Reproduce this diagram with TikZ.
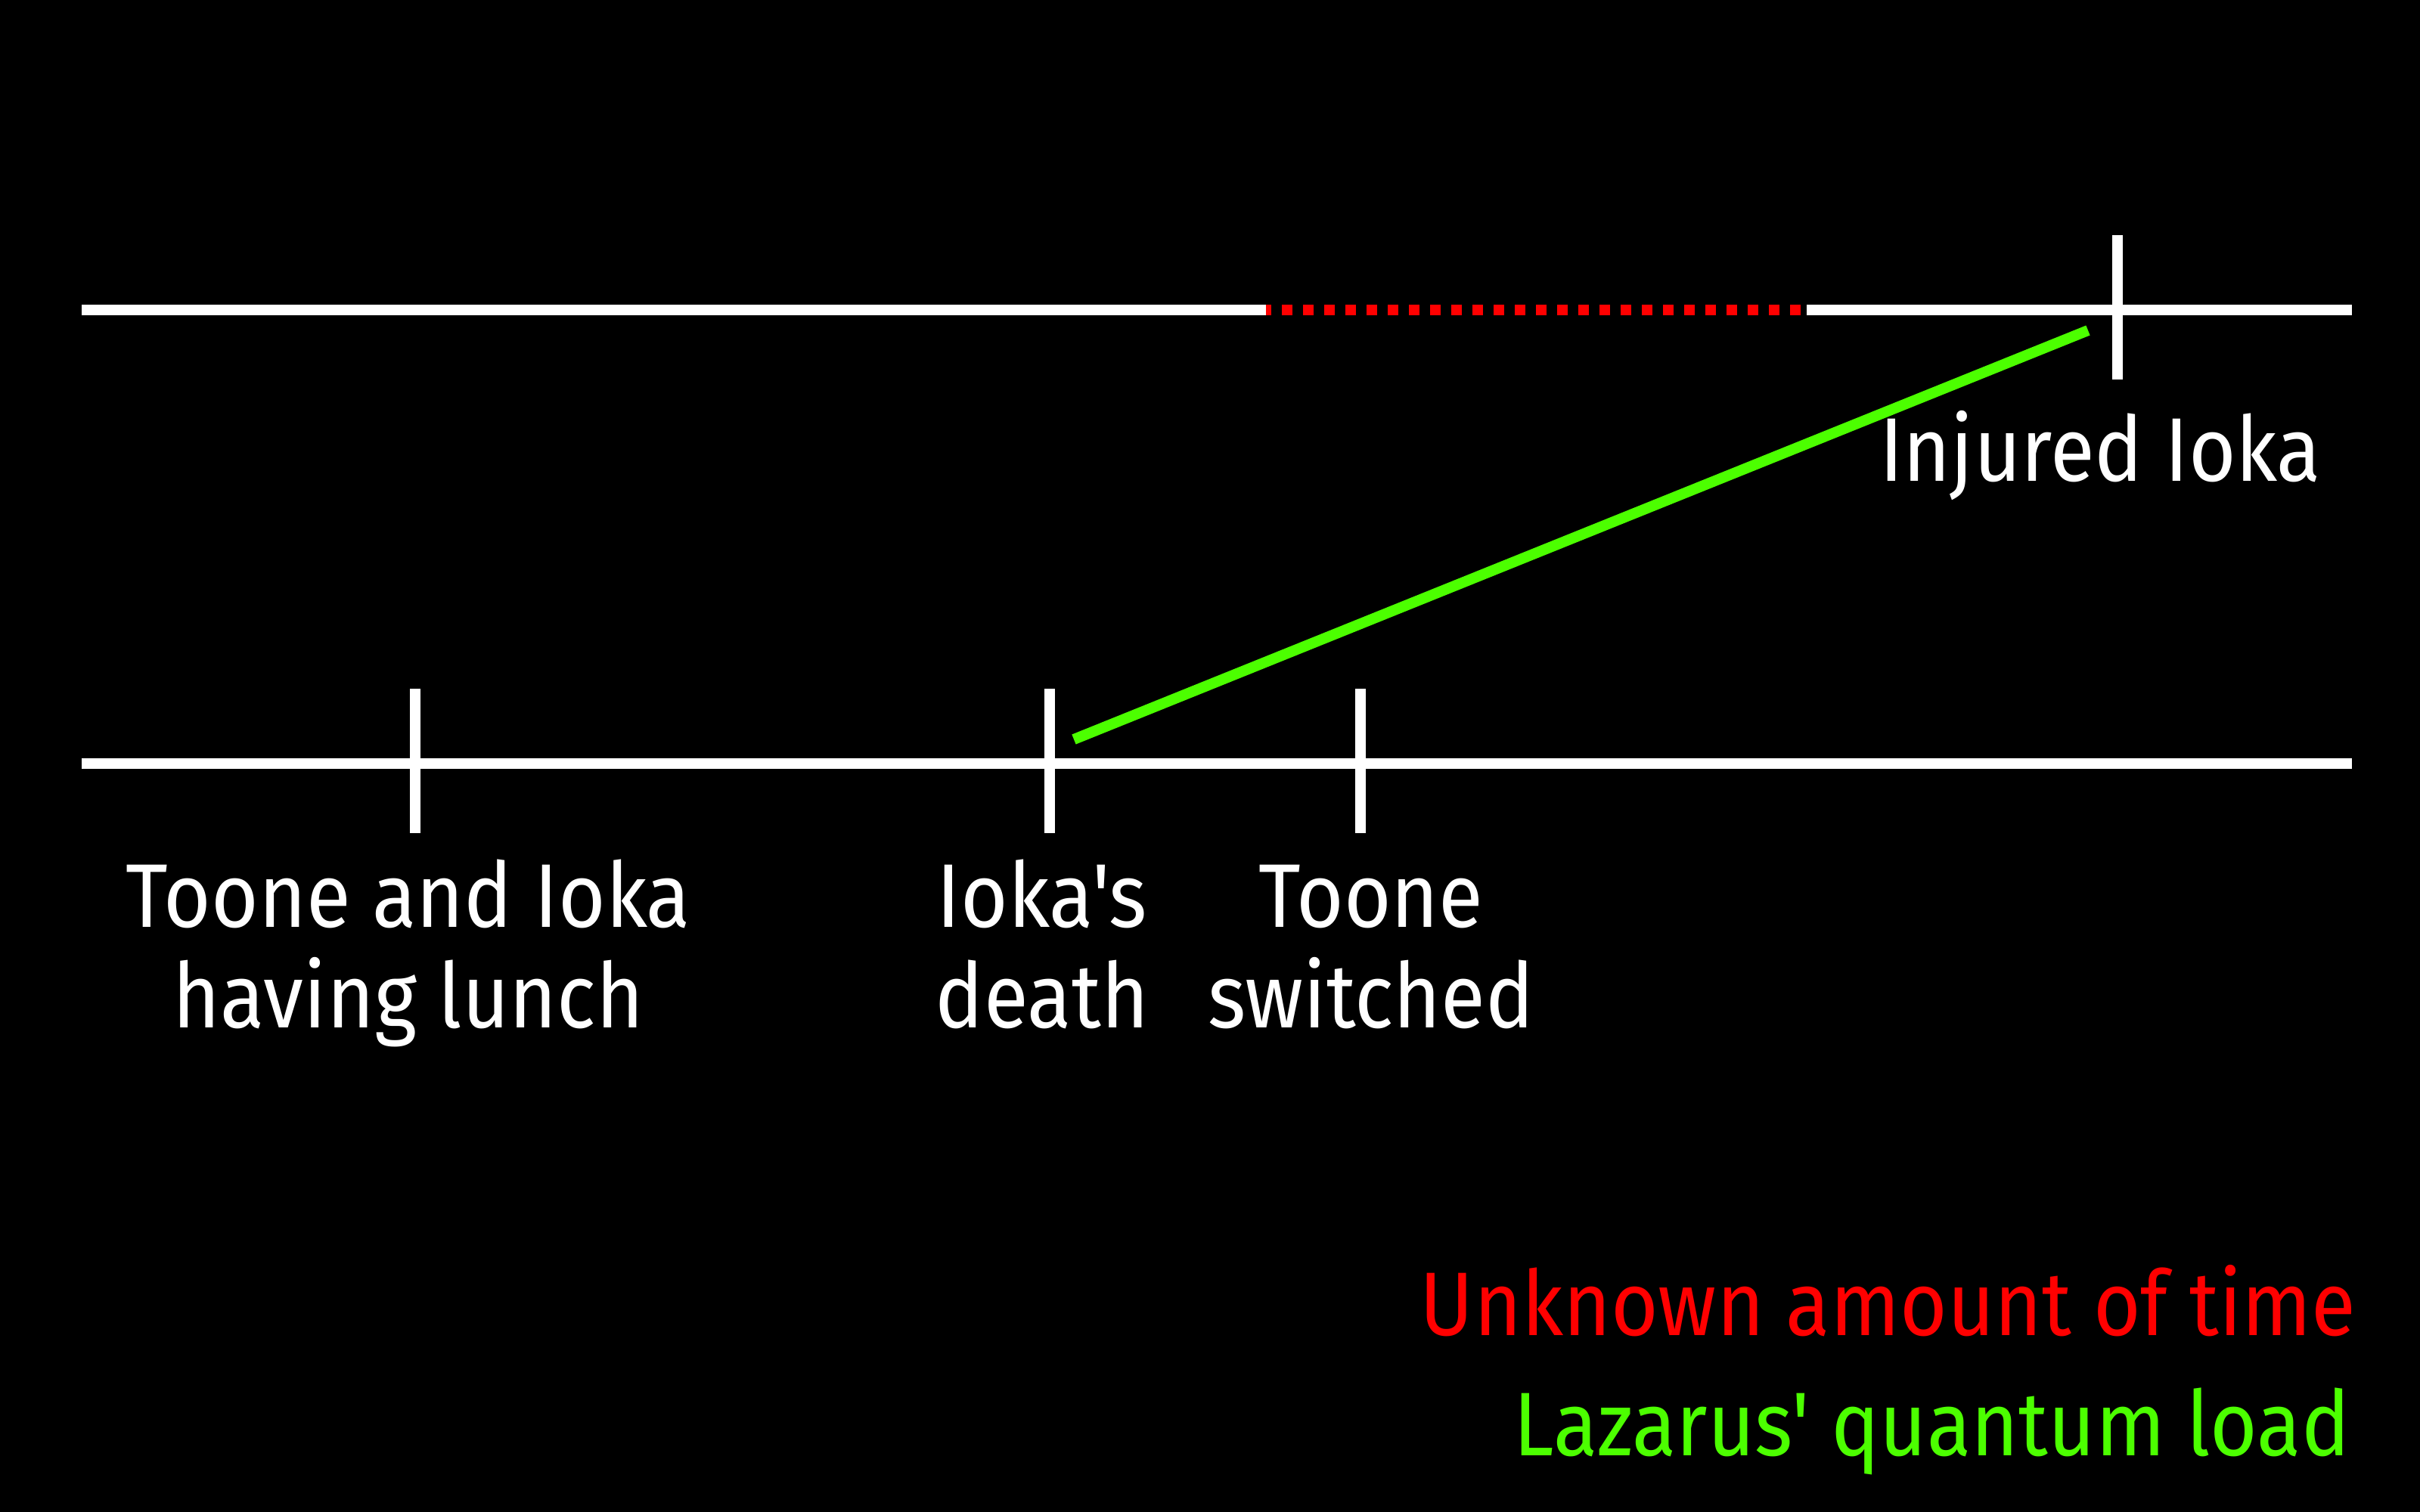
\documentclass[tikz,border=0pt]{standalone}
\usepackage{fontspec}
\setmainfont{Fira Sans}[FakeStretch=0.9, Ligatures=TeXOff]
\usetikzlibrary{positioning}
\definecolor{loadgreen}{RGB}{76,255,0}

\begin{document}
\begin{tikzpicture}[
  every node/.style={align=center, font=\fontsize{34}{37.8}\selectfont, text=white, inner sep=0pt},
  timeline/.style={draw=white, line width=0.14cm},
  tickmark/.style={draw=white, line width=0.14cm},
  unknown/.style={draw=red, line width=0.14cm, dash pattern=on 0.14cm off 0.14cm, dash phase=0.07cm},
  quantum/.style={draw=loadgreen, line width=0.14cm},
  legend/.style={anchor=base east}
]

% --- BACKGROUND ---
\fill[black] (0,0) rectangle (32,-20);
\useasboundingbox (0,0) rectangle (32,-20);

% --- TOP TIMELINE ---
\coordinate (topstart) at (1.08,-4.10);
\coordinate (gapstart) at (16.74,-4.10);
\coordinate (gapend) at (23.89,-4.10);
\coordinate (topend) at (31.10,-4.10);
\coordinate (injuredtick) at (28.00,-4.10);

\draw[timeline] (topstart) -- (gapstart);
\draw[unknown] (gapstart) -- (gapend);
\draw[timeline] (gapend) -- (topend);
\draw[tickmark] ([yshift=0.99cm]injuredtick) -- ([yshift=-0.92cm]injuredtick);

\node[anchor=base] (injured) at (27.77,-6.36) {Injured Ioka};

% --- BOTTOM TIMELINE ---
\coordinate (botstart) at (1.08,-10.10);
\coordinate (botend) at (31.10,-10.10);
\coordinate (lunchtick) at (5.49,-10.10);
\coordinate (deathtick) at (13.88,-10.10);
\coordinate (switchtick) at (17.99,-10.10);

\draw[timeline] (botstart) -- (botend);
\foreach \t in {lunchtick, deathtick, switchtick}
  \draw[tickmark] ([yshift=0.99cm]\t) -- ([yshift=-0.92cm]\t);

% base anchor sits on the last line
\node[anchor=base] (lunch) at (5.40,-13.59) {Toone and Ioka\\having lunch};
\node[anchor=base] (death) at (13.78,-13.59) {Ioka's\\death};
\node[anchor=base] (switched) at (18.13,-13.59) {Toone\\switched};

% --- QUANTUM LOAD ---
\coordinate (loadstart) at (14.20,-9.78);
\coordinate (loadend) at (27.61,-4.37);
\draw[quantum] (loadstart) -- (loadend);

% --- LEGEND ---
\node[legend, text=red] (unknownkey) at (31.16,-17.66) {Unknown amount of time};
\node[legend, text=loadgreen] (quantumkey) at (31.08,-19.25) {Lazarus' quantum load};

\end{tikzpicture}
\end{document}
